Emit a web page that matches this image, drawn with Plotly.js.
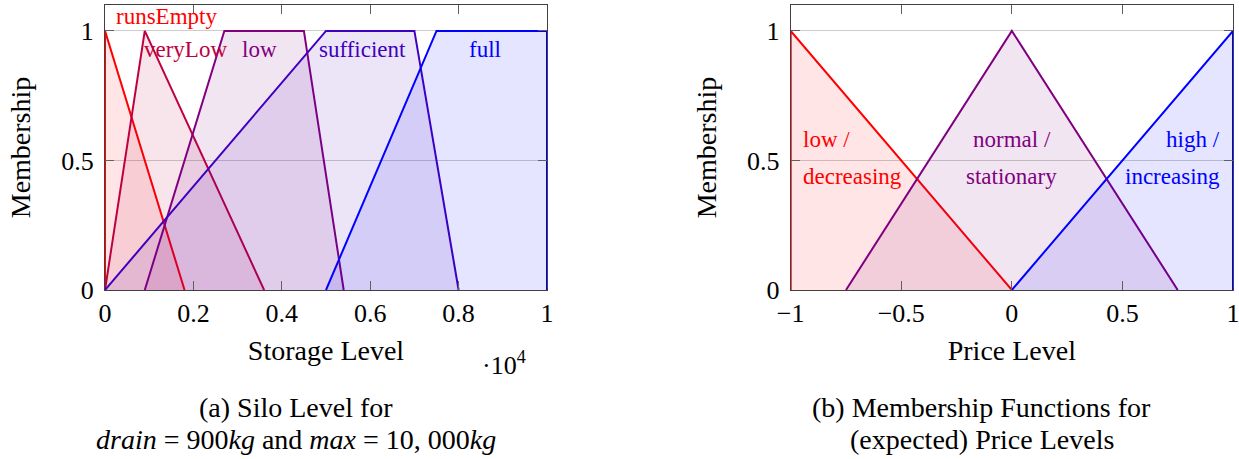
<!DOCTYPE html>
<html>
<head>
<meta charset="utf-8">
<script src="https://cdn.plot.ly/plotly-3.0.1.min.js"></script>
<style>
html,body{margin:0;padding:0;background:#fff;}
#chart{width:1239px;height:459px;}
</style>
</head>
<body>
<div id="chart"></div>
<script>
// ---- Storage level membership functions (kg) ----
const runsEmptyX = [0, 0, 1800];
const runsEmptyY = [0, 1, 0];
const veryLowX = [0, 900, 3600];
const veryLowY = [0, 1, 0];
const lowX = [900, 2700, 4500, 5400];
const lowY = [0, 1, 1, 0];
const sufficientX = [0, 5000, 7000, 8000];
const sufficientY = [0, 1, 1, 0];
const fullX = [5000, 7500, 10000, 10000];
const fullY = [0, 1, 1, 0];
const storageTickVals = [0, 2000, 4000, 6000, 8000, 10000];
const storageTickText = ["0", "0.2", "0.4", "0.6", "0.8", "1"];

// ---- Price level membership functions ----
const priceLowX = [-1, -1, 0];
const priceLowY = [0, 1, 0];
const priceNormalX = [-0.75, 0, 0.75];
const priceNormalY = [0, 1, 0];
const priceHighX = [0, 1, 1];
const priceHighY = [0, 1, 0];
const priceTickVals = [-1, -0.5, 0, 0.5, 1];
const priceTickText = ["\u22121", "\u22120.5", "0", "0.5", "1"];

const yTickVals = [0, 0.5, 1];
const yTickText = ["0", "0.5", "1"];

const FONT = "Liberation Serif";
const C_RED = "#ff0000", C_VL = "#bf0040", C_LOW = "#800080", C_SUF = "#4000bf", C_BLUE = "#0000ff";

function fillRGBA(hex, a) {
  const r = parseInt(hex.substr(1,2),16), g = parseInt(hex.substr(3,2),16), b = parseInt(hex.substr(5,2),16);
  return `rgba(${r},${g},${b},${a})`;
}
function poly(x, y, color, xa, ya) {
  return {x: x, y: y, type: "scatter", mode: "lines", fill: "toself",
    fillcolor: fillRGBA(color, 0.1), line: {color: color, width: 2},
    xaxis: xa, yaxis: ya, hoverinfo: "skip", showlegend: false};
}

const data = [
  poly(runsEmptyX, runsEmptyY, C_RED, "x", "y"),
  poly(veryLowX, veryLowY, C_VL, "x", "y"),
  poly(lowX, lowY, C_LOW, "x", "y"),
  poly(sufficientX, sufficientY, C_SUF, "x", "y"),
  poly(fullX, fullY, C_BLUE, "x", "y"),
  poly(priceLowX, priceLowY, C_RED, "x2", "y2"),
  poly(priceNormalX, priceNormalY, C_LOW, "x2", "y2"),
  poly(priceHighX, priceHighY, C_BLUE, "x2", "y2")
];

const axCommon = {
  showline: true, linecolor: "#404040", linewidth: 1, mirror: "ticks",
  ticks: "inside", ticklen: 9, tickwidth: 1, tickcolor: "#606060",
  zeroline: false, tickfont: {family: FONT, size: 26, color: "#000"}, fixedrange: true,
  ticklabeloverflow: "allow"
};
const yCommon = Object.assign({}, axCommon, {
  range: [0, 1.1], tickmode: "array", tickvals: yTickVals, ticktext: yTickText,
  showgrid: true, gridcolor: "#cccccc", gridwidth: 1, ticklabelstandoff: 5,
  title: {text: "Membership", font: {family: FONT, size: 28, color: "#000"}, standoff: 22}
});

function ann(xref, yref, x, y, text, size, color, xanchor) {
  return {xref: xref, yref: yref, x: x, y: y, text: text, showarrow: false,
    xanchor: xanchor || "center", yanchor: "middle",
    font: {family: FONT, size: size, color: color}};
}
const py = p => (290 - p) / 285;

const layout = {
  width: 1239, height: 459,
  margin: {l: 0, r: 0, t: 5, b: 169},
  paper_bgcolor: "#fff", plot_bgcolor: "rgba(0,0,0,0)",
  font: {family: FONT, color: "#000"},
  showlegend: false,
  xaxis: Object.assign({}, axCommon, {
    domain: [105/1239, 547/1239], range: [0, 10000], anchor: "y",
    tickmode: "array", tickvals: storageTickVals, ticktext: storageTickText, showgrid: false,
    title: {text: "Storage Level", font: {family: FONT, size: 28, color: "#000"}, standoff: 13}
  }),
  yaxis: Object.assign({}, yCommon, {anchor: "x"}),
  xaxis2: Object.assign({}, axCommon, {
    domain: [790.7/1239, 1233/1239], range: [-1, 1], anchor: "y2",
    tickmode: "array", tickvals: priceTickVals, ticktext: priceTickText, showgrid: false,
    title: {text: "Price Level", font: {family: FONT, size: 28, color: "#000"}, standoff: 13}
  }),
  yaxis2: Object.assign({}, yCommon, {anchor: "x2"}),
  annotations: [
    ann("x", "y", 1400, 1.054, "runsEmpty", 23, C_RED),
    ann("x", "y", 1810, 0.93, "veryLow", 23, C_VL),
    ann("x", "y", 3500, 0.93, "low", 23, C_LOW),
    ann("x", "y", 5830, 0.93, "sufficient", 23, C_SUF),
    ann("x", "y", 8600, 0.93, "full", 23, C_BLUE),
    ann("x2", "y2", -0.955, 0.581, "low /", 23, C_RED, "left"),
    ann("x2", "y2", -0.955, 0.438, "decreasing", 23, C_RED, "left"),
    ann("x2", "y2", 0, 0.581, "normal /", 23, C_LOW),
    ann("x2", "y2", 0, 0.438, "stationary", 23, C_LOW),
    ann("x2", "y2", 0.952, 0.581, "high /", 23, C_BLUE, "right"),
    ann("x2", "y2", 0.952, 0.438, "increasing", 23, C_BLUE, "right"),
    ann("paper", "paper", 504/1239, py(363), "\u00b710<sup>4</sup>", 26, "#000"),
    ann("paper", "paper", 296/1239, py(407), "(a) Silo Level for", 28, "#000"),
    ann("paper", "paper", 296/1239, py(440), "<i>drain</i> = 900<i>kg</i> and <i>max</i> = 10, 000<i>kg</i>", 28, "#000"),
    ann("paper", "paper", 982/1239, py(407), "(b) Membership Functions for", 28, "#000"),
    ann("paper", "paper", 982/1239, py(440), "(expected) Price Levels", 28, "#000")
  ]
};

Plotly.newPlot("chart", data, layout, {displayModeBar: false, staticPlot: true});
</script>
</body>
</html>
